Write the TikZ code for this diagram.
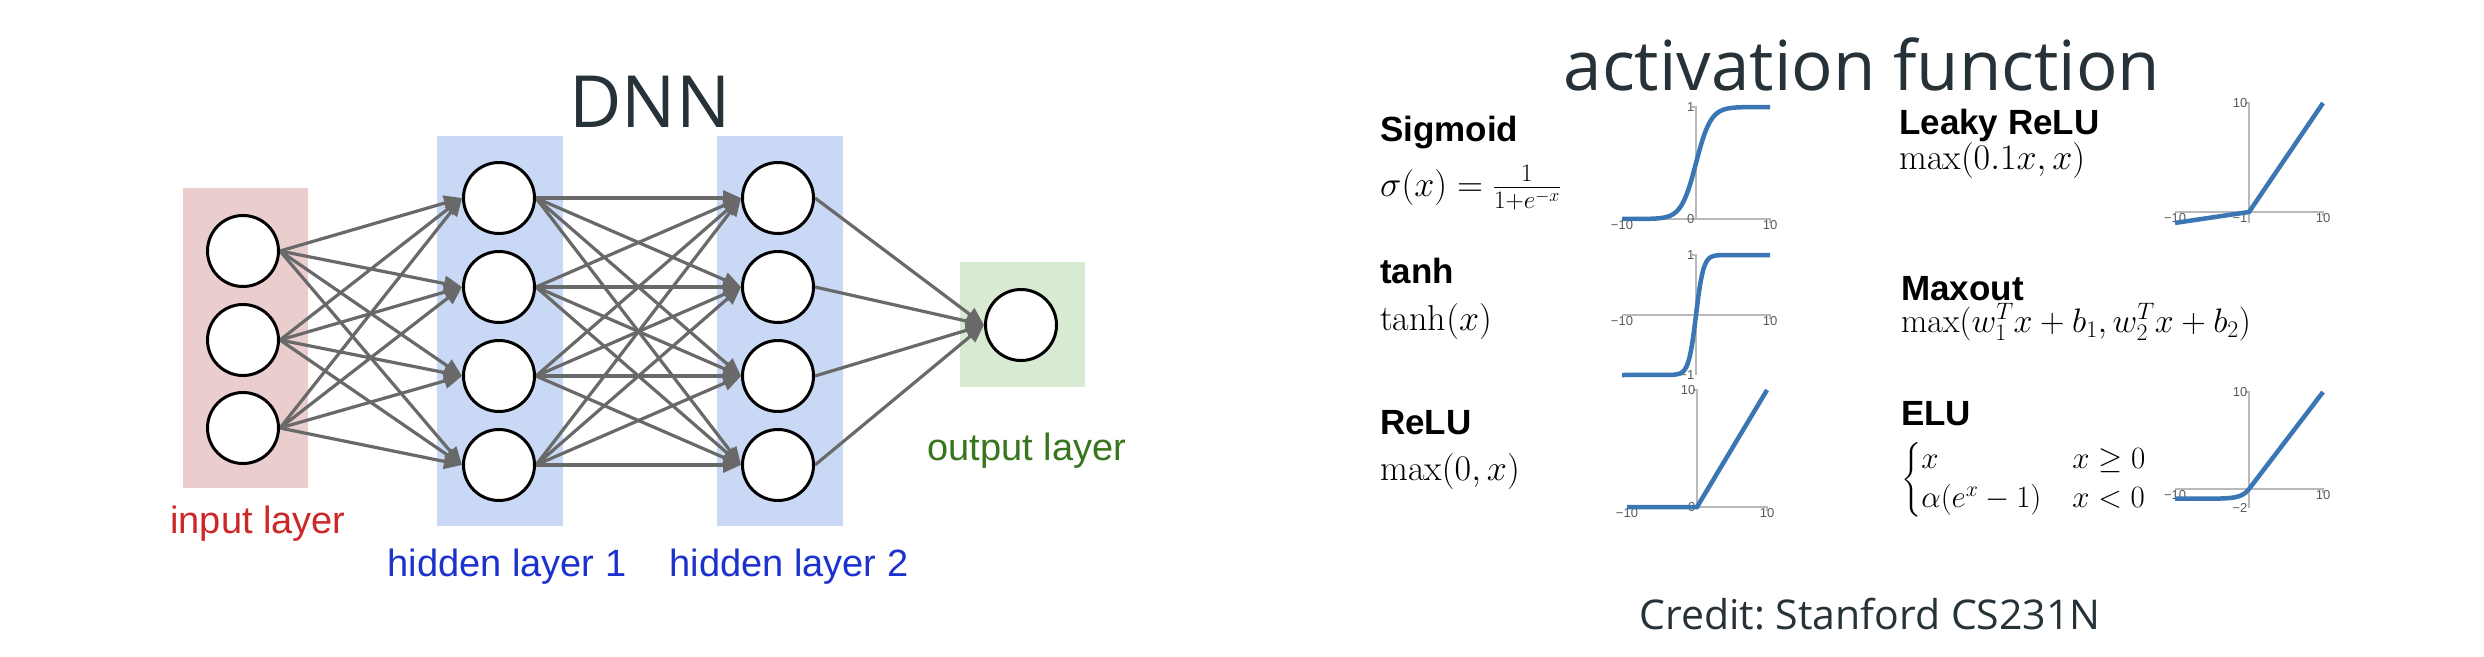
\RequirePackage{fix-cm}
\documentclass[tikz,border=0pt]{standalone}
\usepackage{amsmath}
\usepackage{fontspec}
\newfontfamily\arialf{Liberation Sans}
\newfontfamily\opensf{Open Sans}
\usetikzlibrary{arrows.meta}
\definecolor{inpink}{RGB}{234,206,206}
\definecolor{hidblue}{RGB}{201,216,244}
\definecolor{outgreen}{RGB}{217,234,211}
\definecolor{inred}{RGB}{204,40,40}
\definecolor{hidtext}{RGB}{28,50,204}
\definecolor{outtext}{RGB}{56,118,29}
\definecolor{arrowgray}{RGB}{105,105,105}
\definecolor{titlecol}{RGB}{38,50,56}
\definecolor{curvecol}{RGB}{58,118,180}
\definecolor{axiscol}{RGB}{185,185,185}
\definecolor{tickcol}{RGB}{90,90,90}
\pgfdeclarelayer{bg}
\pgfdeclarelayer{mid}
\pgfsetlayers{bg,mid,main}
\begin{document}
\begin{tikzpicture}[x=1pt,y=-1pt,
  neuron/.style={circle,draw=black,fill=white,line width=3pt,minimum size=71pt,inner sep=0pt},
  conn/.style={draw=arrowgray,line width=3.2pt,-{Triangle[length=18pt,width=15pt]}},
  layerlab/.style={anchor=base,inner sep=0pt,font=\arialf\fontsize{38}{46}\selectfont},
  bigtitle/.style={anchor=base,inner sep=0pt,text=titlecol,font=\opensf\fontsize{72}{80}\selectfont},
  fname/.style={anchor=base west,inner sep=0pt,font=\arialf\bfseries\fontsize{35}{42}\selectfont},
  fmath/.style={anchor=base west,inner sep=0pt,font=\fontsize{36}{43}\selectfont},
  fmathsmall/.style={anchor=base west,inner sep=0pt,font=\fontsize{34}{33}\selectfont},
  axisline/.style={draw=axiscol,line width=1.5pt},
  curve/.style={draw=curvecol,line width=4.5pt},
  ticklab/.style={inner sep=1.5pt,text=tickcol,font=\arialf\fontsize{13}{15}\selectfont}]
\useasboundingbox (0,0) rectangle (2484,656);

% ---------------- DNN ----------------
\node[bigtitle] (dnn) at (650,127) {DNN};

\node[neuron] (i1) at (243,251) {};
\node[neuron] (i2) at (243,340) {};
\node[neuron] (i3) at (243,428) {};
\foreach \k/\y in {1/198,2/287,3/376,4/465}{
  \node[neuron] (h\k) at (499,\y) {};
  \node[neuron] (g\k) at (778,\y) {};
}
\node[neuron] (o) at (1021,325) {};

\begin{pgfonlayer}{bg}
  \fill[white] (0,0) rectangle (2484,656);
  \fill[inpink] (183,188) rectangle (308,488);
  \fill[hidblue] (437,136) rectangle (563,526);
  \fill[hidblue] (717,136) rectangle (843,526);
  \fill[outgreen] (960,262) rectangle (1085,387);
\end{pgfonlayer}

\begin{pgfonlayer}{mid}
  \foreach \s in {1,2,3}{\foreach \t in {1,2,3,4}{\draw[conn] (i\s.east) -- (h\t.west);}}
  \foreach \s in {1,2,3,4}{\foreach \t in {1,2,3,4}{\draw[conn] (h\s.east) -- (g\t.west);}}
  \foreach \s in {1,2,3,4}{\draw[conn] (g\s.east) -- (o.west);}
\end{pgfonlayer}

\node[layerlab,text=inred] (inlab) at (258,533) {input layer};
\node[layerlab,text=hidtext] (h1lab) at (507,576) {hidden layer 1};
\node[layerlab,text=hidtext] (h2lab) at (789,576) {hidden layer 2};
\node[layerlab,text=outtext] (outlab) at (1027,460) {output layer};

% ---------------- activation functions ----------------
\node[bigtitle,font=\opensf\fontsize{69}{77}\selectfont] (act) at (1862,90) {activation function};
\node[anchor=base,inner sep=0pt,text=titlecol,font=\opensf\fontsize{41}{48}\selectfont] (credit) at (1870,629) {Credit:\ Stanford CS231N};

\node[fname] (sigl) at (1380,141) {Sigmoid};
\node[fmath] (sigf) at (1380,196) {$\sigma(x)=\frac{1}{1+e^{-x}}$};
\node[fname] (tanhl) at (1380,283) {tanh};
\node[fmath] (tanhf) at (1380,330) {$\tanh(x)$};
\node[fname] (relul) at (1380,434) {ReLU};
\node[fmath] (reluf) at (1380,480) {$\max(0,x)$};

\node[fname] (leakl) at (1899,134) {Leaky ReLU};
\node[fmath] (leakf) at (1899,169) {$\max(0.1x,x)$};
\node[fname] (maxl) at (1901,300) {Maxout};
\node[fmathsmall] (maxf) at (1901,332) {$\max(w_1^Tx+b_1,w_2^Tx+b_2)$};
\node[fname] (elul) at (1901,425) {ELU};
\node[fmathsmall,font=\fontsize{31}{33}\selectfont] (eluf) at (1901,488) {$\begin{cases}x & x\ge 0\\ \alpha(e^x-1) & x<0\end{cases}$};

% Sigmoid plot
\begin{scope}[shift={(1696,219)},x=7.4pt,y=112pt]
  \draw[axisline] (-10,0) -- (10,0) -- ++(0pt,-4pt);
  \draw[axisline] (0,0) -- (0,1) -- ++(-4pt,0pt);
  \node[ticklab,anchor=east] at (0,1) {1};
  \node[ticklab,anchor=east] at (0,0) {0};
  \node[ticklab,anchor=north] at (-10,0) {−10};
  \node[ticklab,anchor=north] at (10,0) {10};
  \draw[curve] (-10,0) -- plot[domain=-7:7,samples=71,smooth] (\x,{1/(1+exp(-\x))}) -- (10,1);
\end{scope}

% tanh plot
\begin{scope}[shift={(1696,315)},x=7.4pt,y=60pt]
  \draw[axisline] (-10,0) -- (10,0) -- ++(0pt,-4pt);
  \draw[axisline] (0,-1) -- (0,1) -- ++(-4pt,0pt);
  \node[ticklab,anchor=east] at (0,1) {1};
  \node[ticklab,anchor=east] at (0,-1) {−1};
  \node[ticklab,anchor=north] at (-10,0) {−10};
  \node[ticklab,anchor=north] at (10,0) {10};
  \draw[curve] (-10,-1) -- plot[domain=-3.5:3.5,samples=71,smooth] (\x,{(exp(2*\x)-1)/(exp(2*\x)+1)}) -- (10,1);
\end{scope}

% ReLU plot
\begin{scope}[shift={(1697,507)},x=7pt,y=11.7pt]
  \draw[axisline] (-10,0) -- (10,0) -- ++(0pt,-4pt);
  \draw[axisline] (0,0) -- (0,10) -- ++(-4pt,0pt);
  \node[ticklab,anchor=east] at (0,10) {10};
  \node[ticklab,anchor=east] at (0,0) {0};
  \node[ticklab,anchor=north] at (-10,0) {−10};
  \node[ticklab,anchor=north] at (10,0) {10};
  \draw[curve] (-10,0) -- (0,0) -- (10,10);
\end{scope}

% Leaky ReLU plot
\begin{scope}[shift={(2249,212)},x=7.4pt,y=10.9pt]
  \draw[axisline] (-10,0) -- (10,0) -- ++(0pt,-4pt);
  \draw[axisline] (0,-1) -- (0,10) -- ++(-4pt,0pt);
  \node[ticklab,anchor=east] at (0,10) {10};
  \node[ticklab,anchor=north east] at (0,0) {−1};
  \node[ticklab,anchor=north] at (-10,0) {−10};
  \node[ticklab,anchor=north] at (10,0) {10};
  \draw[curve] (-10,-1) -- (0,0) -- (10,10);
\end{scope}

% ELU plot
\begin{scope}[shift={(2249,489)},x=7.4pt,y=9.7pt]
  \draw[axisline] (-10,0) -- (10,0) -- ++(0pt,-4pt);
  \draw[axisline] (0,-2) -- (0,10) -- ++(-4pt,0pt);
  \node[ticklab,anchor=east] at (0,10) {10};
  \node[ticklab,anchor=east] at (0,-2) {−2};
  \node[ticklab,anchor=north] at (-10,0) {−10};
  \node[ticklab,anchor=north] at (10,0) {10};
  \draw[curve] plot[domain=-10:0,samples=60,smooth] (\x,{exp(\x)-1}) -- (10,10);
\end{scope}
\end{tikzpicture}
\end{document}
